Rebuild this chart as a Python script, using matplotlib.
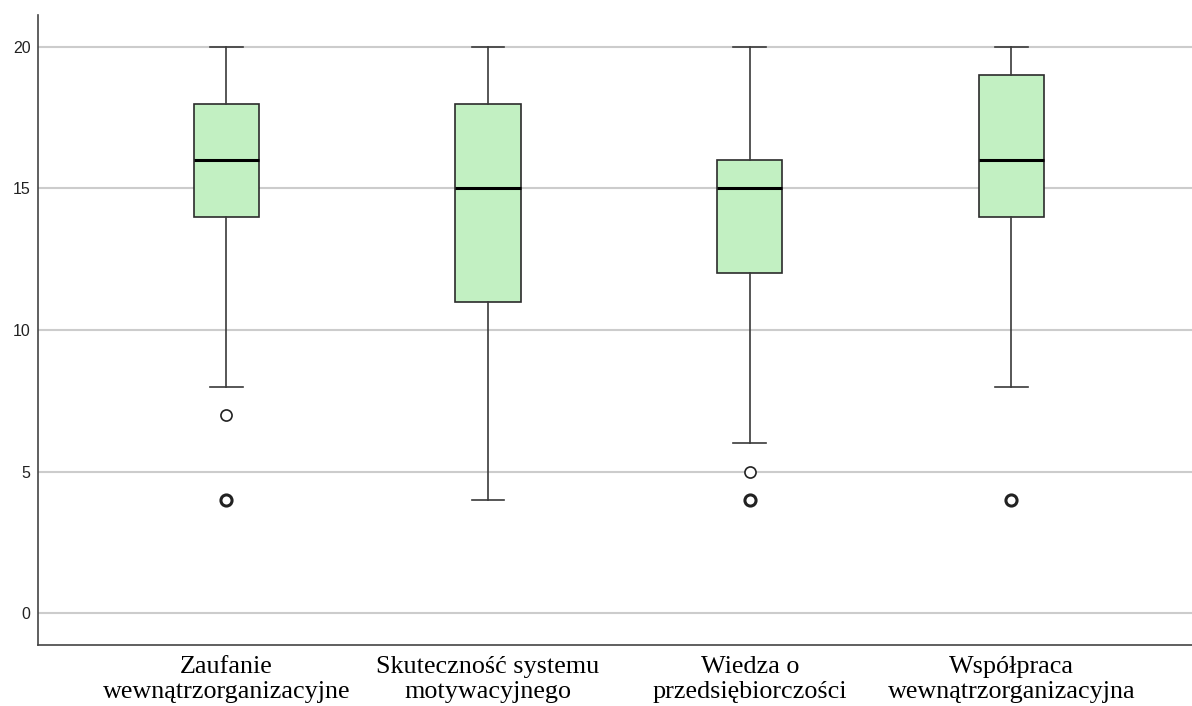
import matplotlib.pyplot as plt

kategorie = ['Zaufanie\nwewnątrzorganizacyjne', 'Skuteczność systemu\nmotywacyjnego',
             'Wiedza o\nprzedsiębiorczości', 'Współpraca\nwewnątrzorganizacyjna']
dolne_wasy = [8, 4, 6, 8]
q1 = [14, 11, 12, 14]
mediany = [16, 15, 15, 16]
q3 = [18, 18, 16, 19]
gorne_wasy = [20, 20, 20, 20]
odstajace = [[7, 4], [], [5, 4], [4]]
# ile obserwacji nakłada się w danym punkcie odstającym
liczebnosc_odst = [[1, 3], [], [1, 3], [3]]

statystyki = []
for i in range(len(kategorie)):
    statystyki.append({'whislo': dolne_wasy[i], 'q1': q1[i], 'med': mediany[i],
                       'q3': q3[i], 'whishi': gorne_wasy[i], 'fliers': []})

fig = plt.figure(figsize=(11.92, 7.06), dpi=100)
ax = fig.add_axes([0.0319, 0.0864, 0.9681, 0.8924])

pozycje = list(range(len(kategorie)))
ax.bxp(statystyki, positions=pozycje, widths=0.25, patch_artist=True, showfliers=False,
       boxprops=dict(facecolor='#c2f0c2', edgecolor='#2b2b2b', linewidth=1.2),
       medianprops=dict(color='black', linewidth=2.2),
       whiskerprops=dict(color='#3a3a3a', linewidth=1.2),
       capprops=dict(color='#3a3a3a', linewidth=1.2), capwidths=0.125,
       zorder=3)

# punkty odstające (grubsze kółko gdy kilka obserwacji)
for i, (wart, ile) in enumerate(zip(odstajace, liczebnosc_odst)):
    for w, n in zip(wart, ile):
        ax.plot(pozycje[i], w, marker='o', markersize=8, markerfacecolor='white',
                markeredgecolor='#222222', markeredgewidth=1.2 if n == 1 else 2.2,
                linestyle='none', zorder=4)

ax.set_xlim(-0.72, 3.69)
ax.set_ylim(-1.13, 21.13)
ax.set_yticks([0, 5, 10, 15, 20])
ax.yaxis.grid(True, color='#cccccc', linewidth=1.5, zorder=0)
ax.set_axisbelow(True)

ax.spines['top'].set_visible(False)
ax.spines['right'].set_visible(False)
ax.spines['left'].set_color('#444444')
ax.spines['bottom'].set_color('#444444')
ax.spines['left'].set_linewidth(1.2)
ax.spines['bottom'].set_linewidth(1.2)

ax.tick_params(axis='y', length=0, pad=5.5, labelsize=11.5, labelcolor='#222222')
ax.tick_params(axis='x', length=0, pad=8)
ax.set_xticks(pozycje)
ax.set_xticklabels(kategorie, fontfamily='Liberation Serif', fontsize=18.8,
                   color='black', linespacing=1.18)
for t in ax.get_yticklabels():
    t.set_fontfamily('Liberation Sans')

fig.savefig('out.png', dpi=100)
